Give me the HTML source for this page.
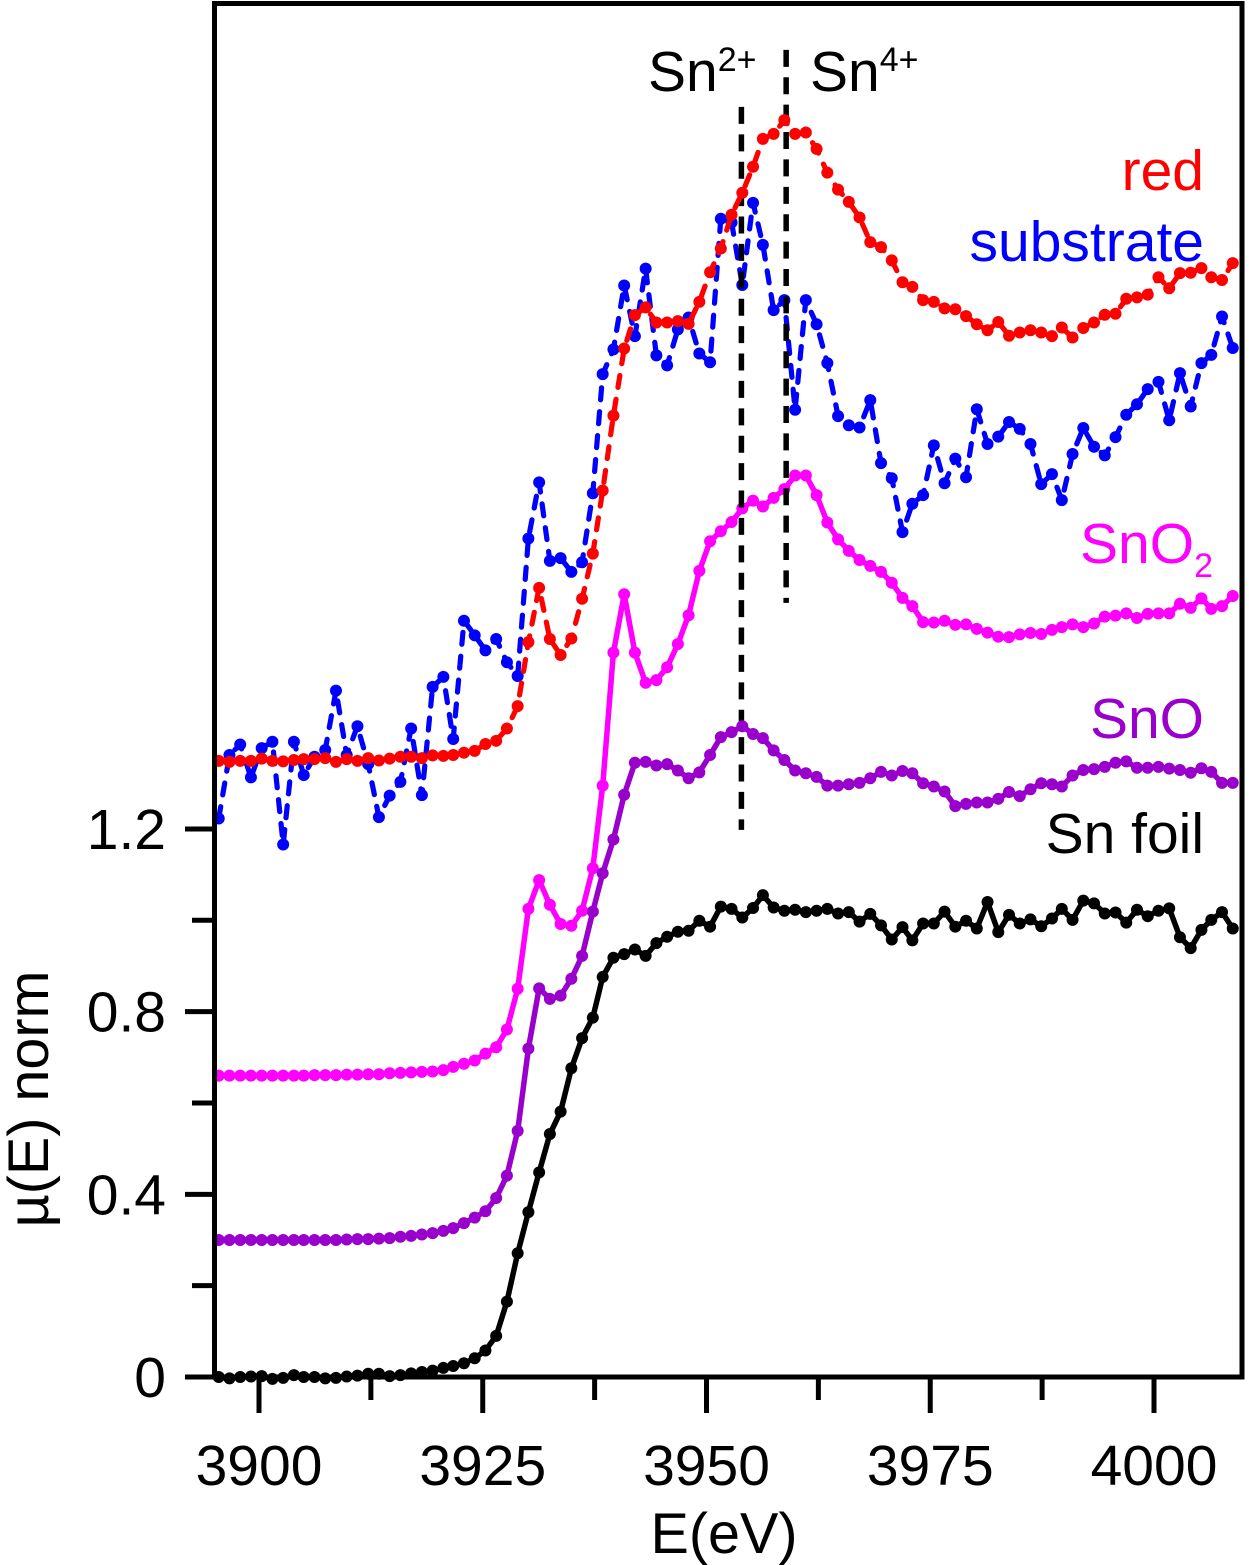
<!DOCTYPE html>
<html lang="en">
<head>
<meta charset="utf-8">
<title>Sn L-edge XANES spectra</title>
<style>
html,body{margin:0;padding:0;background:#fff;}
svg{display:block;}
text{font-family:"Liberation Sans",sans-serif;}
</style>
</head>
<body>
<svg id="chart" xmlns="http://www.w3.org/2000/svg" width="1250" height="1565" viewBox="0 0 1250 1565">
  <rect x="0" y="0" width="1250" height="1565" fill="#fff"/>
  <g id="x-ticks"></g>
  <g id="y-ticks"></g>
  <g id="series"></g>
  <rect x="214.5" y="3.5" width="1027.5" height="1373.5" fill="none" stroke="#000" stroke-width="5"/>
  <text transform="translate(48,1099) rotate(-90)" font-size="57.5" text-anchor="middle">µ(E) norm</text>
  <text x="724" y="1553" font-size="57.5" text-anchor="middle">E(eV)</text>
  <text x="648" y="91" font-size="57">Sn<tspan font-size="34" dy="-20">2+</tspan></text>
  <text x="810" y="91" font-size="57">Sn<tspan font-size="34" dy="-20">4+</tspan></text>
  <text x="1204" y="190" font-size="57" text-anchor="end" fill="#ff0000">red</text>
  <text x="1204" y="261" font-size="57" text-anchor="end" fill="#0000ff">substrate</text>
  <text x="1080" y="563" font-size="57" fill="#ff00ff">SnO<tspan font-size="34" dy="14">2</tspan></text>
  <text x="1204" y="738" font-size="57" text-anchor="end" fill="#9900cc">SnO</text>
  <text x="1204" y="853" font-size="57" text-anchor="end" fill="#000">Sn foil</text>
</svg>
<script>
const energies = [
3895.5,3896.7,3897.9,3899.1,3900.3,3901.5,3902.7,3903.9,3905.0,3906.2,
3907.4,3908.6,3909.8,3911.0,3912.2,3913.4,3914.6,3915.8,3917.0,3918.2,
3919.4,3920.6,3921.7,3922.9,3924.1,3925.3,3926.5,3927.7,3928.9,3930.1,
3931.3,3932.5,3933.7,3934.9,3936.1,3937.3,3938.4,3939.6,3940.8,3942.0,
3943.2,3944.4,3945.6,3946.8,3948.0,3949.2,3950.4,3951.6,3952.8,3954.0,
3955.2,3956.3,3957.5,3958.7,3959.9,3961.1,3962.3,3963.5,3964.7,3965.9,
3967.1,3968.3,3969.5,3970.7,3971.9,3973.0,3974.2,3975.4,3976.6,3977.8,
3979.0,3980.2,3981.4,3982.6,3983.8,3985.0,3986.2,3987.4,3988.6,3989.7,
3990.9,3992.1,3993.3,3994.5,3995.7,3996.9,3998.1,3999.3,4000.5,4001.7,
4002.9,4004.1,4005.3,4006.4,4007.6,4008.8];

const redValues = [
1.349,1.347,1.349,1.349,1.354,1.349,1.348,1.351,1.353,1.353,
1.355,1.347,1.353,1.349,1.355,1.350,1.354,1.358,1.358,1.355,
1.361,1.360,1.362,1.367,1.371,1.386,1.393,1.420,1.469,1.609,
1.728,1.616,1.581,1.617,1.704,1.803,1.941,2.105,2.252,2.325,
2.342,2.309,2.309,2.312,2.306,2.354,2.419,2.471,2.545,2.593,
2.650,2.711,2.722,2.752,2.722,2.725,2.689,2.637,2.600,2.573,
2.539,2.485,2.474,2.445,2.397,2.387,2.358,2.354,2.340,2.338,
2.323,2.305,2.292,2.310,2.280,2.287,2.292,2.287,2.279,2.298,
2.276,2.297,2.309,2.326,2.328,2.361,2.364,2.370,2.408,2.384,
2.417,2.418,2.428,2.408,2.402,2.439];

const substrateValues = [
1.223,1.362,1.385,1.313,1.377,1.391,1.166,1.391,1.318,1.358,
1.373,1.503,1.362,1.425,1.342,1.226,1.273,1.303,1.420,1.274,
1.511,1.533,1.397,1.656,1.624,1.591,1.616,1.565,1.535,1.836,
1.959,1.787,1.793,1.763,1.784,1.935,2.196,2.250,2.390,2.279,
2.427,2.237,2.215,2.294,2.320,2.241,2.222,2.536,2.528,2.391,
2.571,2.479,2.336,2.358,2.118,2.358,2.305,2.220,2.104,2.084,
2.079,2.139,2.001,1.968,1.850,1.912,1.931,2.040,1.957,2.011,
1.970,2.119,2.043,2.059,2.091,2.076,2.043,1.955,1.977,1.920,
2.021,2.078,2.037,2.018,2.058,2.107,2.130,2.163,2.179,2.095,
2.198,2.125,2.220,2.238,2.322,2.253];

const sno2Values = [
0.660,0.660,0.660,0.660,0.660,0.660,0.660,0.660,0.660,0.661,
0.661,0.661,0.662,0.662,0.663,0.663,0.665,0.666,0.667,0.668,
0.669,0.672,0.679,0.686,0.693,0.708,0.722,0.761,0.850,1.025,
1.088,1.034,0.992,0.988,1.021,1.114,1.295,1.586,1.714,1.586,
1.520,1.526,1.554,1.605,1.668,1.765,1.830,1.852,1.872,1.902,
1.919,1.906,1.925,1.944,1.974,1.974,1.931,1.871,1.834,1.809,
1.789,1.776,1.763,1.739,1.706,1.688,1.653,1.652,1.656,1.647,
1.648,1.638,1.630,1.621,1.620,1.626,1.629,1.627,1.636,1.642,
1.648,1.642,1.650,1.665,1.667,1.672,1.662,1.671,1.672,1.672,
1.693,1.684,1.705,1.682,1.688,1.710];

const snoValues = [
0.300,0.300,0.300,0.300,0.300,0.300,0.300,0.300,0.300,0.300,
0.300,0.300,0.301,0.302,0.302,0.303,0.304,0.307,0.309,0.312,
0.315,0.320,0.326,0.337,0.349,0.363,0.392,0.441,0.539,0.719,
0.851,0.828,0.835,0.872,0.922,1.019,1.103,1.177,1.275,1.345,
1.347,1.339,1.342,1.328,1.311,1.324,1.362,1.401,1.412,1.425,
1.408,1.399,1.372,1.351,1.328,1.322,1.314,1.295,1.295,1.298,
1.301,1.311,1.325,1.317,1.327,1.322,1.300,1.293,1.282,1.250,
1.255,1.258,1.258,1.266,1.281,1.272,1.287,1.300,1.298,1.293,
1.317,1.329,1.331,1.336,1.345,1.348,1.334,1.334,1.336,1.332,
1.329,1.323,1.333,1.325,1.301,1.301];

const foilValues = [
0.000,-0.003,0.000,0.001,0.002,-0.004,-0.002,0.004,0.000,0.000,
-0.003,-0.002,0.001,0.003,0.007,0.007,0.002,0.004,0.008,0.011,
0.014,0.020,0.024,0.030,0.041,0.058,0.090,0.165,0.271,0.361,
0.448,0.532,0.581,0.676,0.742,0.787,0.876,0.918,0.926,0.936,
0.922,0.950,0.964,0.975,0.977,0.999,0.986,1.030,1.025,1.006,
1.027,1.055,1.028,1.021,1.023,1.018,1.021,1.025,1.015,1.018,
0.997,1.014,0.989,0.958,0.985,0.956,0.993,0.993,1.019,0.986,
0.999,0.982,1.040,0.974,1.012,0.993,1.002,0.987,1.004,1.025,
1.001,1.043,1.037,1.015,1.017,0.995,1.023,1.009,1.021,1.026,
0.963,0.939,0.979,1.001,1.018,0.982];

const xMajorTicks = [3900,3925,3950,3975,4000];
const xMinorTicks = [3912.5,3937.5,3962.5,3987.5];
const yMajorTicks = [0,0.4,0.8,1.2];
const yMajorLabels = ['0','0.4','0.8','1.2'];
const yMinorTicks = [0.2,0.6,1.0];

const sn2MarkerEnergy = [3953.9];
const sn2MarkerRange = [1.198,2.781];
const sn4MarkerEnergy = [3958.9];
const sn4MarkerRange = [1.695,2.906];

function xScale(e){ return 259 + 8.95 * (e - 3900); }
function yScale(v){ return 1377 - 456.7 * v; }

const NS = 'http://www.w3.org/2000/svg';
function make(tag, parent){
  const el = document.createElementNS(NS, tag);
  parent.appendChild(el);
  return el;
}
function setAttrs(el, attrs){
  for (const k in attrs) el.setAttribute(k, attrs[k]);
}

const xTickGroup = document.getElementById('x-ticks');
const yTickGroup = document.getElementById('y-ticks');
const seriesGroup = document.getElementById('series');

xMajorTicks.forEach(function(t){
  const line = make('line', xTickGroup);
  
  
  setAttrs(line, {x1:xScale(t), x2:xScale(t), y1:1377, y2:1413, stroke:'#000', 'stroke-width':5});
  const label = make('text', xTickGroup);
  
  
  setAttrs(label, {x:xScale(t), y:1485, 'font-size':57, 'text-anchor':'middle'});
  label.textContent = String(t);
});
xMinorTicks.forEach(function(t){
  const line = make('line', xTickGroup);
  
  
  setAttrs(line, {x1:xScale(t), x2:xScale(t), y1:1377, y2:1400, stroke:'#000', 'stroke-width':5});
});
yMajorTicks.forEach(function(t, i){
  const line = make('line', yTickGroup);
  
  
  setAttrs(line, {x1:185, x2:214, y1:yScale(t), y2:yScale(t), stroke:'#000', 'stroke-width':5});
  const label = make('text', yTickGroup);
  
  
  setAttrs(label, {x:166, y:yScale(t) + 20, 'font-size':57, 'text-anchor':'end'});
  label.textContent = yMajorLabels[i];
});
yMinorTicks.forEach(function(t){
  const line = make('line', yTickGroup);
  
  
  setAttrs(line, {x1:192, x2:214, y1:yScale(t), y2:yScale(t), stroke:'#000', 'stroke-width':5});
});

function drawSeries(name, values, color, dashed){
  const g = make('g', seriesGroup);
  
  
  const pts = values.map(function(v, i){ return xScale(energies[i]).toFixed(1) + ',' + yScale(v).toFixed(1); }).join(' ');
  const line = make('polyline', g);
  
  
  setAttrs(line, {points:pts, fill:'none', stroke:color, 'stroke-width':dashed ? 5.2 : 5.5, 'stroke-linejoin':'round'});
  if (dashed) {
    setAttrs(line, {'stroke-dasharray':'12 12', 'stroke-linecap':'round'});
  }
  values.forEach(function(v, i){
    const c = make('circle', g);
    
    
    setAttrs(c, {cx:xScale(energies[i]), cy:yScale(v), r:6, fill:color});
  });
}

function drawMarker(name, energy, range){
  const line = make('line', seriesGroup);
  
  
  setAttrs(line, {x1:xScale(energy[0]), x2:xScale(energy[0]), y1:yScale(range[1]), y2:yScale(range[0]),
    stroke:'#000', 'stroke-width':5.5, 'stroke-dasharray':'17 10.4', 'stroke-linecap':'butt'});
}

drawSeries('sn-foil-series', foilValues, '#000000', false);
drawSeries('substrate-series', substrateValues, '#0000ff', true);
drawSeries('sno2-series', sno2Values, '#ff00ff', false);
drawMarker('sn2-marker-line', sn2MarkerEnergy, sn2MarkerRange);
drawMarker('sn4-marker-line', sn4MarkerEnergy, sn4MarkerRange);
drawSeries('sno-series', snoValues, '#9900cc', false);
drawSeries('red-series', redValues, '#ff0000', true);
</script>
</body>
</html>
